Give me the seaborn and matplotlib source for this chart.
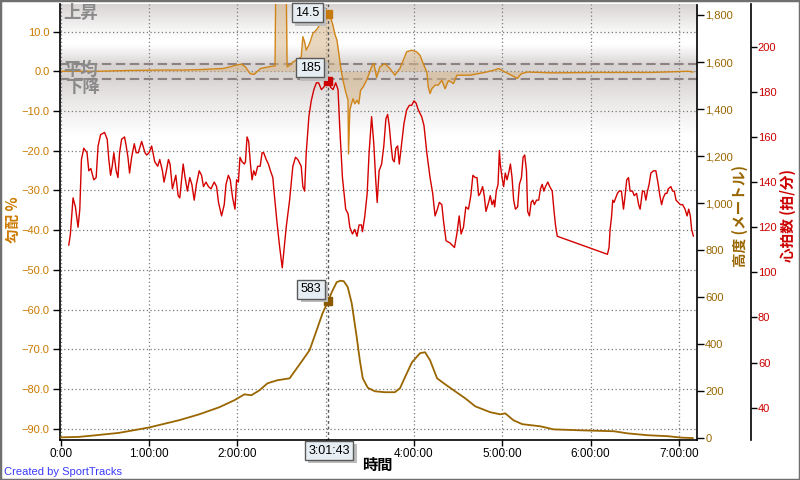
import numpy as np
import matplotlib
matplotlib.use("Agg")
import matplotlib.pyplot as plt
import matplotlib.patheffects as pe
import seaborn as sns
from matplotlib.patches import Rectangle
from matplotlib.ticker import FuncFormatter

# ---------------- data ----------------
hr_min = [5.5, 6.6, 8.4, 10.0, 11.8, 13.0, 14.1, 15.7, 17.9, 19.1, 20.5, 22.5, 24.1, 25.4, 27.1, 29.8, 31.6, 32.7, 33.9, 35.0,
          36.1, 37.7, 38.9, 40.0, 41.4, 43.4, 44.5, 45.7, 46.8, 48.2, 50.0, 51.3, 52.7, 55.0, 57.3, 58.4, 60.0, 61.8, 63.9, 65.9,
          67.3, 69.1, 70.2, 71.8, 73.2, 74.3, 75.9, 78.2, 79.8, 80.9, 83.2, 84.5, 86.1, 87.7, 89.1, 90.7, 92.2, 94.1, 95.7, 97.0,
          98.7, 100.4, 102.1, 104.3, 105.9, 107.2, 109.3, 111.1, 112.3, 113.9, 115.2, 116.8, 118.4, 119.5, 120.7, 121.8, 123.2,
          124.8, 125.5, 126.6, 127.7, 128.9, 130.0, 131.1, 132.3, 133.8, 135.5, 136.8, 137.9, 139.6, 141.1, 142.5, 144.1, 145.2,
          146.8, 148.6, 150.5, 153.2, 155.5, 157.7, 159.5, 161.1, 163.4, 164.5, 165.7, 166.8, 168.6, 170.2, 172.0, 173.7, 175.2,
          177.1, 178.6, 180.5, 181.7, 183.4, 185.0, 186.8, 188.4, 189.5, 191.4, 193.6, 195.2, 196.4, 198.2, 199.8, 201.3, 202.7,
          204.3, 205.0, 206.6, 208.2, 209.5, 211.2, 212.7, 213.9, 215.0, 216.3, 218.0, 219.5, 220.9, 222.1, 223.2, 224.3, 225.5,
          226.6, 227.7, 228.9, 230.0, 231.6, 233.2, 235.0, 236.8, 238.4, 240.0, 241.4, 242.9, 245.2, 246.8, 248.7, 250.9, 252.7,
          254.3, 255.9, 257.2, 258.9, 260.0, 261.8, 264.5, 267.5, 269.1, 270.7, 272.0, 273.6, 275.2, 277.0, 278.6, 280.0, 281.6,
          282.8, 283.9, 285.0, 286.6, 287.7, 288.9, 290.7, 291.8, 293.0, 294.1, 294.8, 295.9, 297.1, 298.0, 298.6, 299.8, 300.9,
          302.0, 303.2, 304.3, 305.5, 306.6, 307.7, 308.9, 310.4, 311.6, 313.0, 314.1, 315.2, 316.4, 317.2, 318.4, 319.6, 320.7,
          321.8, 323.2, 324.7, 325.9, 327.1, 328.2, 329.3, 330.9, 332.2, 333.9, 335.0, 336.1, 337.3, 371.4, 372.5, 373.2, 374.1,
          375.0, 375.9, 377.0, 378.2, 379.3, 380.9, 382.3, 383.4, 384.5, 385.7, 386.8, 388.4, 389.6, 391.2, 392.6, 393.6, 395.2,
          396.4, 397.5, 398.6, 399.7, 400.9, 402.7, 404.3, 405.9, 407.0, 408.2, 409.3, 410.7, 411.8, 412.7, 414.5, 415.7, 416.8,
          418.0, 419.5, 420.9, 422.5, 424.1, 425.5, 426.6, 427.7, 428.6, 429.8]
hr_bpm = [112, 117, 133, 129, 120, 128, 150, 155, 153, 145, 146, 141, 142, 156, 161, 162, 159, 150, 143, 147,
          153, 145, 142, 153, 159, 160, 156, 151, 144, 151, 157, 153, 153, 158, 153, 152, 153, 156, 149, 147,
          150, 145, 140, 145, 150, 148, 137, 143, 134, 133, 148, 142, 136, 142, 139, 132, 139, 145, 143, 138,
          140, 138, 137, 140, 138, 131, 125, 130, 139, 143, 141, 133, 128, 141, 140, 151, 149,
          148, 149, 160, 158, 148, 141, 145, 143, 147, 147, 153, 153, 150, 148, 145, 142, 134,
          123, 112, 102, 120, 132, 147, 151, 150, 147, 138, 136, 153, 169, 176, 181, 184, 184,
          181, 182, 184, 185, 182, 181, 184, 181, 165, 142, 128, 126, 120, 117, 119, 116, 121,
          121, 118, 125, 135, 153, 169, 157, 142, 131, 145, 148, 156, 168, 170, 165, 157, 150,
          149, 155, 156, 148, 157, 166, 172, 174, 174, 176, 175, 172, 169, 165, 153, 142, 135,
          125, 128, 131, 130, 123, 114, 113, 111, 117, 125, 117, 120, 129, 128, 134, 143, 142,
          142, 134, 135, 138, 134, 127, 131, 134, 130, 132, 129, 136, 139, 154, 148, 142, 138,
          144, 141, 144, 148, 142, 132, 128, 129, 139, 142, 151, 152, 145, 127, 125, 131, 132,
          130, 132, 132, 137, 139, 136, 138, 140, 138, 136, 128, 121, 116, 108, 111, 119, 124,
          132, 131, 133, 135, 136, 136, 128, 134, 141, 142, 136, 136, 134, 135, 130, 128, 136,
          136, 132, 136, 139, 144, 145, 145, 139, 134, 130, 133, 135, 135, 137, 138, 136, 136,
          132, 131, 130, 130, 128, 125, 128, 125, 119, 116]

elev_min = [0.0, 12.3, 23.9, 39.5, 60.0, 80.5, 94.1, 107.7, 118.0, 124.8, 129.5, 135.0, 140.5, 147.3, 155.5, 164.3,
            169.1, 173.9, 177.9, 181.7, 184.1, 187.5, 190.0, 192.3, 195.0, 197.7, 201.1, 203.2, 205.2, 208.6, 213.4,
            220.2, 227.0, 230.5, 233.9, 238.6, 244.1, 247.5, 250.9, 255.7, 261.1, 267.9, 274.8, 281.6, 291.8, 298.6,
            302.0, 307.5, 313.6, 325.9, 334.8, 353.2, 375.7, 385.2, 398.9, 412.5, 421.4, 429.5]
elev_m = [4, 6, 13, 23, 46, 77, 102, 132, 162, 187, 183, 204, 234, 247, 255, 332,
          375, 460, 532, 583, 621, 664, 670, 668, 643, 574, 430, 332, 255, 215, 200,
          196, 196, 213, 260, 323, 362, 366, 332, 255, 230, 200, 170, 136, 111, 102,
          106, 77, 60, 51, 38, 34, 30, 21, 13, 9, 3, 1]

grade_min = [0.0, 25.9, 46.4, 66.8, 82.5, 94.1, 104.3, 110.5, 115.9, 118.6, 122.7, 125.5, 128.6, 131.4, 135.7, 143.9,
             145.6, 146.2, 153.1, 153.8, 155.5, 157.7, 160.0, 163.4, 164.5, 165.7, 166.8, 169.1, 171.3, 173.7, 175.9,
             178.2, 180.5, 181.7, 183.2, 185.0, 186.1, 187.7, 189.1, 190.7, 191.8, 193.6, 195.2, 195.5, 196.4, 197.5,
             198.6, 199.8, 201.3, 202.5, 203.7, 205.4, 207.7, 209.5, 211.2, 212.7, 214.6, 216.8, 220.2, 223.6, 227.0,
             230.5, 233.2, 235.0, 238.4, 241.8, 244.1, 246.3, 248.7, 249.7, 250.9, 252.1, 254.3, 256.4, 258.9, 261.1,
             263.4, 266.8, 269.1, 271.4, 278.2, 289.1, 294.5, 297.6, 301.8, 306.1, 310.2, 312.9, 317.0, 334.1, 366.8,
             400.9, 426.1, 429.5]
grade_pct = [0.0, 0.0, 0.2, 0.3, 0.3, 0.4, 0.6, 0.7, 1.2, 1.5, 1.8, 1.1, -0.6, -0.8, 0.7, 1.3,
             1.3, 25.0, 25.0, 1.1, 1.5, 2.3, 2.8, 3.6, 8.7, 7.4, 5.3, 7.0, 9.5, 10.4, 11.6,
             12.4, 14.6, 14.5, 13.7, 11.5, 9.5, 7.8, 4.0, -0.2, -2.3, -5.2, -7.3, -20.8, -9.8, -8.2,
             -6.9, -8.2, -7.3, -8.2, -4.8, -4.0, -2.3, -0.6, 1.1, 2.0, -1.6, 1.1, 1.9, 0.7, -1.0,
             0.8, 3.2, 4.9, 5.3, 4.9, 4.0, 1.9, -0.2, -4.0, -5.6, -4.4, -3.5, -3.5, -2.3, -4.4,
             -2.3, -3.1, -1.0, -1.0, -1.0, -0.2, 0.3, 0.7, -0.2, -1.0, -1.8, -0.6, -0.2, -0.4, -0.3,
             -0.3, 0.0, -0.2]

grade_avg_band = [1.8, -2.0]          # 平均 band limits (%)
cursor_min = 181.72                    # 3:01:43
cursor_label = "3:01:43"
cursor_grade = 14.5
cursor_hr = 185
cursor_elev = 583

hour_ticks = [0, 60, 120, 180, 240, 300, 360, 420]
hour_labels = ["0:00", "1:00:00", "2:00:00", "3:00:00", "4:00:00", "5:00:00", "6:00:00", "7:00:00"]
grade_ticks = [-90, -80, -70, -60, -50, -40, -30, -20, -10, 0, 10]
elev_ticks = [0, 200, 400, 600, 800, 1000, 1200, 1400, 1600, 1800]
hr_ticks = [40, 60, 80, 100, 120, 140, 160, 180, 200]

assert len(hr_min) == len(hr_bpm)
assert len(elev_min) == len(elev_m)
assert len(grade_min) == len(grade_pct)

# ---------------- style ----------------
sns.set_style("white")
plt.rcParams['font.family'] = ['Liberation Sans', 'Noto Sans CJK JP', 'DejaVu Sans']
plt.rcParams['axes.unicode_minus'] = True

C_GRADE = '#D08518'
C_GRADE_TXT = '#CC7A00'
C_FILL = '#D8B88C'
C_ELEV = '#996600'
C_HR = '#D40000'
C_HR_TXT = '#CC0000'

XLIM = (-0.8, 432.1)
GLIM = (-92.8, 16.8)
ELIM = (-7.2, 1844.6)
HLIM = (25.7, 218.7)
TICK_FS = 8

fig = plt.figure(figsize=(8, 4.8), dpi=100)
ax = fig.add_axes([59.5 / 800, 1 - 440 / 480, (696.8 - 59.5) / 800, (440 - 4.5) / 480])
ax_el = ax.twinx()
ax_hr = ax.twinx()

# background gradient (gray at top and around the average band)
ys = np.linspace(GLIM[1], GLIM[0], 800)
stop_y = [GLIM[0], -16.0, -7.2, -1.95, 1.8, 2.1, 6.6, 7.9, 10.4, GLIM[1]]
stop_w = [1.0, 1.0, 0.45, 0.0, 0.0, 0.12, 1.0, 1.0, 0.8, 0.0]
w = np.interp(ys, stop_y, stop_w)
gray = np.array([216, 212, 211]) / 255.0
img = gray[None, :] * (1 - w[:, None]) + w[:, None]
ax.imshow(img[:, None, :], extent=[XLIM[0], XLIM[1], GLIM[0], GLIM[1]], aspect='auto',
          zorder=0, interpolation='bilinear')

# grid
ax.set_axisbelow(True)
ax.grid(True, linestyle=(0, (1, 2)), color='#7a7a7a', linewidth=0.9)

# average band dashed lines
for v in grade_avg_band:
    ax.axhline(v, color='#8c8282', lw=1.5, ls=(0, (4.5, 2.2)), zorder=1.2)

# grade series
ax.fill_between(grade_min, grade_pct, 0, color=C_FILL, alpha=0.55, lw=0, zorder=1.5)
sns.lineplot(x=grade_min, y=grade_pct, ax=ax, color=C_GRADE, lw=1.0, estimator=None, zorder=2)

# labels in plot
lab_kw = dict(color='#8a8a8a', fontsize=12.5, fontweight='bold', fontstyle='italic',
              family=['Noto Sans CJK JP', 'DejaVu Sans'], zorder=3)
ax.text(1.5, 16.9, '上昇', va='top', ha='left', **lab_kw)
ax.text(2.0, 0.3, '平均', va='center', ha='left', **lab_kw)
ax.text(3.0, -4.0, '下降', va='center', ha='left', **lab_kw)

# cursor
ax.axvline(cursor_min, color='#555555', lw=1.0, ls=(0, (2, 2)), zorder=2.5)

# elevation & heart rate
sns.lineplot(x=elev_min, y=elev_m, ax=ax_el, color=C_ELEV, lw=1.3, estimator=None)
sns.lineplot(x=hr_min, y=hr_bpm, ax=ax_hr, color=C_HR, lw=1.0, estimator=None)

# cursor markers
ax.plot([cursor_min], [cursor_grade], marker='s', ms=6, color='#C47A10', ls='none', zorder=5)
ax_hr.plot([cursor_min], [cursor_hr], marker='s', ms=6, color='#CC0000', ls='none', zorder=5)
ax_el.plot([cursor_min], [cursor_elev], marker='s', ms=6, color='#8B5A00', ls='none', zorder=5)

# limits
ax.set_xlim(*XLIM)
ax.set_ylim(*GLIM)
ax_el.set_ylim(*ELIM)
ax_hr.set_ylim(*HLIM)
for a in (ax, ax_el, ax_hr):
    a.set_xlabel('')
    a.set_ylabel('')

# ticks
ax.set_xticks(hour_ticks)
ax.set_xticklabels(hour_labels)
# the 3:00:00 label is hidden behind the cursor time box in the original
for lbl, t in zip(ax.get_xticklabels(), hour_ticks):
    if abs(t - cursor_min) < 10:
        lbl.set_visible(False)
ax.set_yticks(grade_ticks)
ax.yaxis.set_major_formatter(FuncFormatter(lambda v, p: f"{v:.1f}".replace('-', '\u2212')))
ax.tick_params(axis='x', bottom=True, direction='out', length=4, width=1, color='black',
               labelsize=8.5, labelcolor='black', pad=2)
ax.tick_params(axis='y', left=True, direction='out', length=5, width=1, color='black',
               labelsize=TICK_FS, labelcolor=C_GRADE_TXT, pad=2)

ax_el.set_yticks(elev_ticks)
ax_el.yaxis.set_major_formatter(FuncFormatter(lambda v, p: f"{int(v):,}"))
ax_el.tick_params(axis='y', right=True, direction='out', length=5, width=1, color='black',
                  labelsize=TICK_FS, labelcolor=C_ELEV, pad=1)

ax_hr.set_yticks(hr_ticks)
ax_hr.tick_params(axis='y', right=True, direction='out', length=4, width=1, color='black',
                  labelsize=TICK_FS, labelcolor=C_HR_TXT, pad=1)

# spines
for s in ax.spines.values():
    s.set_visible(False)
for side in ('left', 'bottom'):
    ax.spines[side].set_visible(True)
    ax.spines[side].set_color('black')
    ax.spines[side].set_linewidth(1.2)

for s in ax_el.spines.values():
    s.set_visible(False)
ax_el.spines['right'].set_visible(True)
ax_el.spines['right'].set_color('black')
ax_el.spines['right'].set_linewidth(1.2)

for s in ax_hr.spines.values():
    s.set_visible(False)
ax_hr.spines['right'].set_visible(True)
ax_hr.spines['right'].set_position(('axes', 1.085))
ax_hr.spines['right'].set_color('black')
ax_hr.spines['right'].set_linewidth(1.2)


# value boxes at cursor (box with a soft drop shadow)
def value_box(axis, xy, text, dx, dy, xycoords='data'):
    t = axis.annotate(text, xy=xy, xycoords=xycoords, textcoords='offset pixels', xytext=(dx, dy),
                      ha='center', va='center', fontsize=9, color='black', annotation_clip=False,
                      bbox=dict(boxstyle='square,pad=0.28', fc='#e6eef3', ec='#5a5a5a', lw=1.0), zorder=10)
    t.get_bbox_patch().set_path_effects([
        pe.SimplePatchShadow(offset=(2.5, -2.5), shadow_rgbFace='#bdbdbd', alpha=1.0),
        pe.Normal()])
    return t


value_box(ax_hr, (cursor_min, HLIM[0] + (cursor_grade - GLIM[0]) / (GLIM[1] - GLIM[0]) * (HLIM[1] - HLIM[0])),
          f"{cursor_grade:.1f}", -21, 1)
value_box(ax_hr, (cursor_min, cursor_hr), f"{cursor_hr}", -18, 13)
value_box(ax_hr, (cursor_min, HLIM[0] + (cursor_elev - ELIM[0]) / (ELIM[1] - ELIM[0]) * (HLIM[1] - HLIM[0])),
          f"{cursor_elev}", -17, 12)
value_box(ax_hr, (cursor_min, 0), cursor_label, 1, -10.5, xycoords=('data', 'axes fraction'))

# axis titles
cjk = ['Noto Sans CJK JP', 'DejaVu Sans']
fig.text(13 / 800, 1 - 220 / 480, '勾配 %', rotation=90, ha='center', va='center',
         color=C_GRADE_TXT, fontsize=10.5, fontweight='bold', family=cjk)
fig.text(739.5 / 800, 1 - 216 / 480, '高度 (メートル)', rotation=90, ha='center', va='center',
         color=C_ELEV, fontsize=10.5, fontweight='bold', family=cjk)
fig.text(788 / 800, 1 - 216 / 480, '心拍数 (拍/分)', rotation=90, ha='center', va='center',
         color=C_HR_TXT, fontsize=10.5, fontweight='bold', family=cjk)
fig.text(377 / 800, 1 - 465 / 480, '時間', ha='center', va='center',
         color='black', fontsize=11, fontweight='bold', family=cjk)
fig.text(4 / 800, 1 - 472 / 480, 'Created by SportTracks', ha='left', va='center',
         color='#3a3aff', fontsize=8)

# figure border
fig.patches.append(Rectangle((0, 0), 1, 1, transform=fig.transFigure, fill=False,
                             ec='#707070', lw=2.5, zorder=20))

fig.savefig('out.png', dpi=100)
